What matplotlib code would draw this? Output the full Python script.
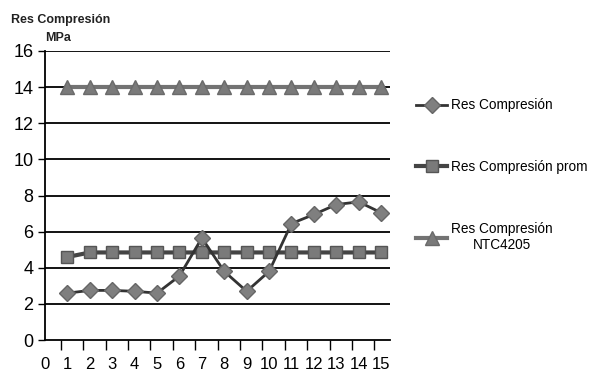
import numpy as np
import matplotlib.pyplot as plt
from matplotlib.lines import Line2D

plt.rcParams['font.family'] = ['Liberation Sans', 'DejaVu Sans']

# Data
muestras = np.arange(1, 16)
res_compresion = [2.6, 2.75, 2.75, 2.7, 2.6, 3.55, 5.65, 3.8, 2.7, 3.8, 6.45, 6.95, 7.5, 7.65, 7.05]
res_prom = [4.6, 4.85, 4.85, 4.85, 4.85, 4.85, 4.85, 4.85, 4.85, 4.85, 4.85, 4.85, 4.85, 4.85, 4.85]
res_ntc = [14] * 15
x_labels = [str(i) for i in range(16)]
y_ticks = [0, 2, 4, 6, 8, 10, 12, 14, 16]

fig = plt.figure(figsize=(6.01, 3.83), dpi=100)
ax = fig.add_axes([0.075, 0.112, 0.574, 0.755])

# Horizontal grid lines
for y in y_ticks[1:]:
    ax.axhline(y, color='black', lw=1.3, zorder=1)

ax.plot(muestras, res_ntc, color='#737373', lw=3, marker='^', markersize=10,
        markerfacecolor='#7a7a7a', markeredgecolor='#6a6a6a', zorder=3)
ax.plot(muestras, res_prom, color='#444444', lw=3, marker='s', markersize=9,
        markerfacecolor='#7a7a7a', markeredgecolor='#555555', zorder=4)
ax.plot(muestras, res_compresion, color='#333333', lw=2, marker='D', markersize=8.5,
        markerfacecolor='#7f7f7f', markeredgecolor='#666666', zorder=5)

ax.set_xlim(0, 15.4)
ax.set_ylim(0, 16)
ax.set_yticks(y_ticks)
ax.set_xticks(range(16))
ax.set_xticklabels(x_labels)
ax.set_xticks(np.arange(0.7, 15.5, 1), minor=True)
ax.tick_params(axis='x', which='major', length=0, pad=12, labelsize=12)
ax.tick_params(axis='x', which='minor', length=7, width=1, direction='out')
ax.tick_params(axis='y', length=5, width=1, labelsize=13)
for s in ['top', 'right']:
    ax.spines[s].set_visible(False)
ax.spines['left'].set_linewidth(1.3)
ax.spines['bottom'].set_linewidth(1.3)

fig.text(0.018, 0.94, 'Res Compresión', fontsize=9, fontweight='bold', color='#222222')
fig.text(0.075, 0.893, 'MPa', fontsize=9, fontweight='bold', color='#222222')

handles = [
    Line2D([], [], color='#333333', lw=2, marker='D', markersize=8.5,
           markerfacecolor='#7f7f7f', markeredgecolor='#666666'),
    Line2D([], [], color='#444444', lw=3, marker='s', markersize=9,
           markerfacecolor='#7a7a7a', markeredgecolor='#555555'),
    Line2D([], [], color='#737373', lw=3, marker='^', markersize=10,
           markerfacecolor='#7a7a7a', markeredgecolor='#6a6a6a'),
]
labels = ['Res Compresión', 'Res Compresión prom', 'Res Compresión\nNTC4205']
leg = fig.legend(handles, labels, loc='upper left', bbox_to_anchor=(0.672, 0.775),
                 frameon=False, fontsize=9.8, labelspacing=3.5, handlelength=2.3,
                 handletextpad=0.25)
for t in leg.get_texts():
    t.set_multialignment('center')

fig.savefig('out.png', dpi=100)
